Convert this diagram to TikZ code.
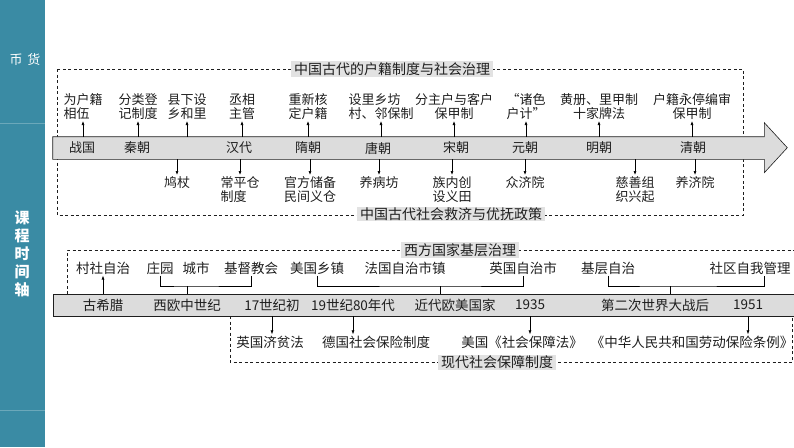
\documentclass[tikz,border=0pt]{standalone}
\usepackage{fontspec}
\setmainfont{Noto Sans CJK SC}
\usepackage{tikz}
\usetikzlibrary{arrows.meta}
\usetikzlibrary{positioning}
\definecolor{sidebar}{RGB}{58,139,164}
\definecolor{barfill}{RGB}{220,220,220}
\definecolor{labelfill}{RGB}{226,226,226}
\definecolor{ink}{RGB}{30,30,30}
\tikzstyle{evt}=[inner sep=1pt, text=ink, font=\fontsize{13}{14.5}\selectfont]
\tikzstyle{item}=[inner sep=1pt, text=ink, font=\fontsize{13.5}{15}\selectfont]
\tikzstyle{frame label}=[fill=labelfill, inner xsep=3pt, inner ysep=1pt, text=ink, font=\fontsize{14}{15}\selectfont]
\tikzstyle{dashed box}=[dash pattern=on 3pt off 2.5pt, line width=0.6pt, draw=ink]
\tikzset{>={Latex[length=4pt,width=3pt]}}

\begin{document}
\begin{tikzpicture}[x=1pt, y=-1pt, line width=0.6pt]
        \useasboundingbox (0,0) rectangle (794,447);

        % Sidebar
        \fill[sidebar] (0,0) rectangle (45,447);
        \draw[white, opacity=0.25] (0,123) -- (45,123);
        \draw[white, opacity=0.25] (0,410) -- (45,410);
        \node at (25,60) [white, font=\fontsize{13}{13}\selectfont] (coin) {币\hspace{5pt}货};
        \node at (22,254) [white, align=center, font=\fontsize{15}{18}\selectfont\bfseries] (title) {课\\程\\时\\间\\轴};

        % Upper frame
        \draw[dashed box] (57,69) rectangle (743,215);
        \node at (392,69) [frame label] (huji) {中国古代的户籍制度与社会治理};
        \node at (451,214) [frame label] (jiuji) {中国古代社会救济与优抚政策};

        % Upper axis
        \node at (408.5,148) [minimum width=711pt, minimum height=22pt, inner sep=0] (axisA) {};
        \filldraw[fill=barfill, draw=ink] (axisA.north west) -- (axisA.north east) -- ++(0,-14)
          -- ++(23,25) -- ++(-23,25) -- (axisA.south east) -- (axisA.south west) -- cycle;

        \foreach \x/\t [count=\i] in {82/战国, 137/秦朝, 239/汉代, 308/隋朝, 378/唐朝, 456/宋朝, 525/元朝, 599/明朝, 693/清朝}
          \node at (\x,148) [evt] (era_\i) {\t};

        % Household registration
        \foreach \x/\a/\t [count=\i] in {83/left/{为户籍\\相伍}, 138/left/{分类登\\记制度}, 187/center/{县下设\\乡和里},
            242/center/{丞相\\主管}, 308/center/{重新核\\定户籍}, 381/left/{设里乡坊\\村、邻保制},
            454/center/{分主户与客户\\保甲制}, 526/center/{“诸色\\户计”}, 599/center/{黄册、里甲制\\十家牌法},
            692/center/{户籍永停编审\\保甲制}}
          \node at (\x,121) [evt, anchor=south, align=\a] (up_\i) {\t};

        \foreach \i in {1,...,10}
          \draw [->] (up_\i |- axisA.north) to (up_\i);

        % Relief
        \foreach \x/\t [count=\i] in {177/鸠杖, 240/{常平仓\\制度}, 310/{官方储备\\民间义仓}, 379/养病坊,
            452/{族内创\\设义田}, 525/众济院, 635/{慈善组\\织兴起}, 695/养济院}
          \node at (\x,175) [evt, anchor=north, align=left] (down_\i) {\t};

        \foreach \i in {1,...,8}
          \draw [->] (down_\i |- axisA.south) to (down_\i);

        % Lower frames
        \draw[dashed box] (67,294) -- (67,250) -- (800,250);
        \draw[dashed box] (230,316) -- (230,362) -- (792,362) -- (792,316);
        \node at (460,250) [frame label] (west) {西方国家基层治理};
        \node at (497,362) [frame label] (modern) {现代社会保障制度};

        % Lower axis
        \node at (426.5,305) [draw=ink, fill=barfill, minimum width=747pt, minimum height=22pt, inner sep=0] (axisB) {};

        \foreach \x/\t [count=\i] in {103/古希腊, 187/西欧中世纪, 272/17世纪初, 353/19世纪80年代,
            455/近代欧美国家, 530/1935, 655/第二次世界大战后, 748/1951}
          \node at (\x,305) [item] (stage_\i) {\t};

        % Grassroots governance
        \foreach \x/\t [count=\i] in {103/村社自治, 160/庄园, 196/城市, 251/基督教会, 317/美国乡镇,
            405/法国自治市镇, 523/英国自治市, 608/基层自治, 750/社区自我管理}
          \node at (\x,268) [item] (top_\i) {\t};

        \draw [->] (top_1 |- axisB.north) to (top_1);

        \coordinate (join_1) at (187,286);
        \coordinate (join_2) at (440,286);
        \coordinate (join_3) at (670,286);
        \draw (top_2.south) |- (join_1) -| (top_4.south);
        \draw (top_5.south) |- (join_2) -| (top_7.south);
        \draw (top_8.south) |- (join_3) -| ([xshift=14pt]top_9.south);
        \foreach \i in {1,...,3}
          \draw (join_\i) -- (join_\i |- axisB.north);

        % Social security
        \foreach \x/\t [count=\i] in {270/英国济贫法, 376/德国社会保险制度, 522/美国《社会保障法》,
            692/《中华人民共和国劳动保险条例》}
          \node at (\x,342) [item] (law_\i) {\t};

        \foreach \s/\l in {3/1, 4/2, 6/3, 8/4}
          \draw [->] (stage_\s |- axisB.south) to (stage_\s |- law_\l.north);
\end{tikzpicture}
\end{document}
